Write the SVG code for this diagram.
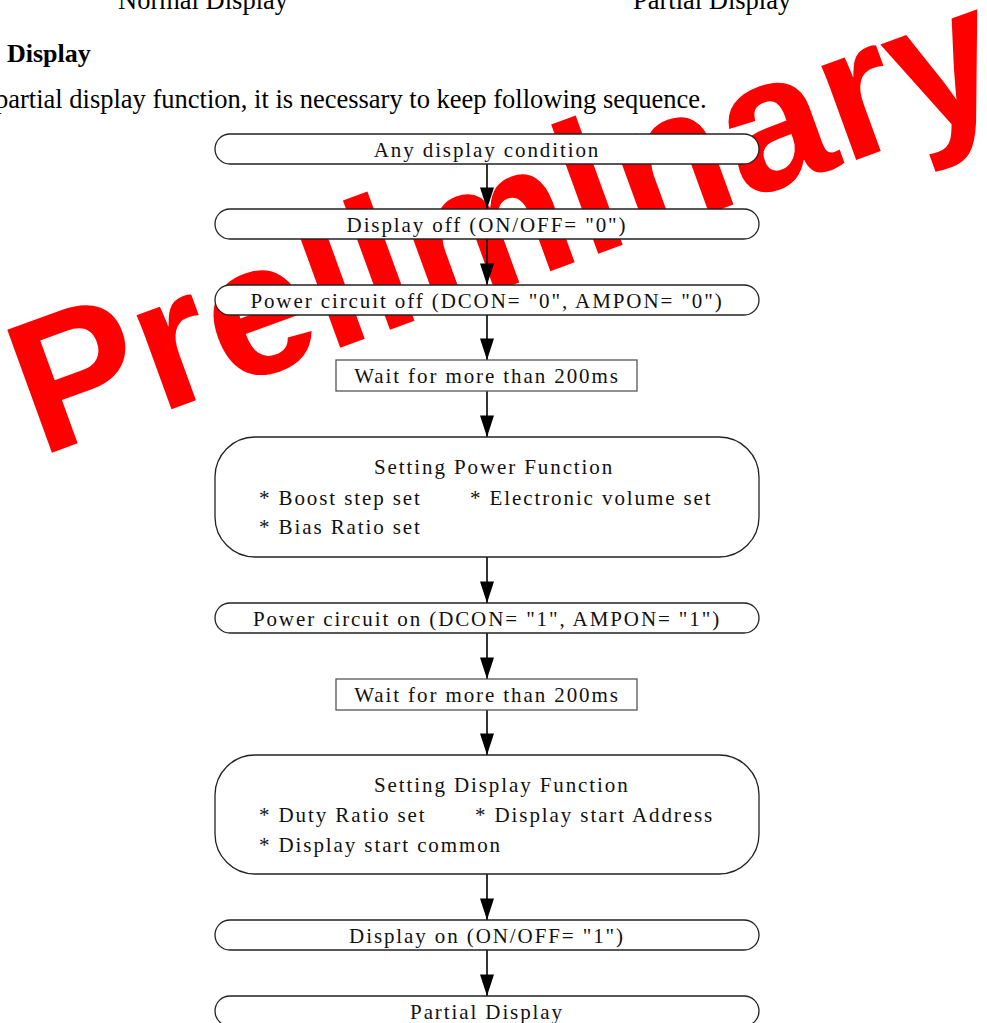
<svg xmlns="http://www.w3.org/2000/svg" width="987" height="1023" viewBox="0 0 987 1023">
<defs>
<style>
.bg{fill:#fff}
.doc{font-family:"Liberation Serif","Times New Roman",serif;fill:#000;font-size:26.5px}
.hd{font-family:"Liberation Serif","Times New Roman",serif;fill:#000;font-size:26px;font-weight:bold}
.wm{font-family:"Liberation Sans",Arial,sans-serif;font-weight:bold;font-size:190px;fill:#ff0000}
.term{fill:#fff;stroke:#222;stroke-width:1.3}
.box{fill:#fff;stroke:#555;stroke-width:1.3}
.t{font-family:"Liberation Serif","Times New Roman",serif;font-size:21px;letter-spacing:1.9px;fill:#111}
.c{text-anchor:middle}
.edge{stroke:#000;stroke-width:1.6;fill:none}
</style>
<marker id="arr" markerUnits="userSpaceOnUse" markerWidth="22" markerHeight="14" viewBox="0 0 20 13" refX="20" refY="6.5" orient="auto">
<path d="M0,0 L20,6.5 L0,13 Z" fill="#000"/>
</marker>
</defs>
<rect class="bg" x="0" y="0" width="987" height="1023"/>
<text class="wm" x="40" y="457" transform="rotate(-20 40 457)">Preliminary</text>
<text class="doc" x="118" y="9">Normal Display</text>
<text class="doc" x="633" y="9">Partial Display</text>
<text class="hd" x="7" y="62">Display</text>
<text class="doc" x="-5" y="108">partial display function, it is necessary to keep following sequence.</text>
<g id="connectors">
<path class="edge" d="M487,164 V209" marker-end="url(#arr)"/>
<path class="edge" d="M487,239 V285" marker-end="url(#arr)"/>
<path class="edge" d="M487,315 V360" marker-end="url(#arr)"/>
<path class="edge" d="M487,391 V437" marker-end="url(#arr)"/>
<path class="edge" d="M487,557 V603" marker-end="url(#arr)"/>
<path class="edge" d="M487,633 V679" marker-end="url(#arr)"/>
<path class="edge" d="M487,709 V755" marker-end="url(#arr)"/>
<path class="edge" d="M487,874 V920" marker-end="url(#arr)"/>
<path class="edge" d="M487,950 V996" marker-end="url(#arr)"/>
</g>
<g id="n1"><rect class="term" x="215" y="134" width="544" height="30" rx="15"/><text class="t c" x="487" y="156.5">Any display condition</text></g>
<g id="n2"><rect class="term" x="215" y="209" width="544" height="30" rx="15"/><text class="t c" x="487" y="231.5">Display off (ON/OFF= "0")</text></g>
<g id="n3"><rect class="term" x="215" y="285" width="544" height="30" rx="15"/><text class="t c" x="487" y="307.5">Power circuit off (DCON= "0", AMPON= "0")</text></g>
<g id="n4"><rect class="box" x="336" y="360" width="301" height="31"/><text class="t c" x="487" y="383">Wait for more than 200ms</text></g>
<g id="n5"><rect class="term" x="215" y="437" width="544" height="120" rx="40"/>
<text class="t" x="374" y="474">Setting Power Function</text>
<text class="t" x="259" y="505">* Boost step set</text>
<text class="t" x="470" y="505">* Electronic volume set</text>
<text class="t" x="259" y="534">* Bias Ratio set</text></g>
<g id="n6"><rect class="term" x="215" y="603" width="544" height="30" rx="15"/><text class="t c" x="487" y="625.5">Power circuit on (DCON= "1", AMPON= "1")</text></g>
<g id="n7"><rect class="box" x="336" y="679" width="301" height="31"/><text class="t c" x="487" y="702">Wait for more than 200ms</text></g>
<g id="n8"><rect class="term" x="215" y="755" width="544" height="119" rx="40"/>
<text class="t" x="374" y="792">Setting Display Function</text>
<text class="t" x="259" y="822">* Duty Ratio set</text>
<text class="t" x="475" y="822">* Display start Address</text>
<text class="t" x="259" y="852">* Display start common</text></g>
<g id="n9"><rect class="term" x="215" y="920" width="544" height="30" rx="15"/><text class="t c" x="487" y="942.5">Display on (ON/OFF= "1")</text></g>
<g id="n10"><rect class="term" x="215" y="996" width="544" height="30" rx="15"/><text class="t c" x="487" y="1018.5">Partial Display</text></g>
</svg>
